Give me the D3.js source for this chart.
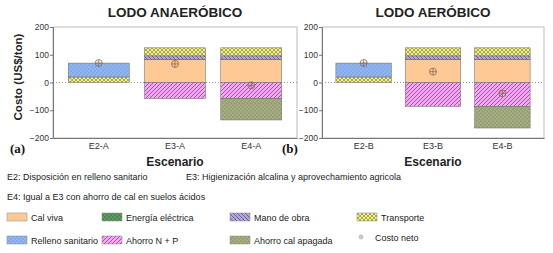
<!DOCTYPE html>
<html><head><meta charset="utf-8">
<script src="https://cdn.jsdelivr.net/npm/d3@7"></script>
<style>body{margin:0;background:#fff}svg{display:block;font-family:Arial,"Liberation Sans",sans-serif}</style>
</head><body>
<script>
const seriesNames = ["Cal viva","Energía eléctrica","Mano de obra","Transporte","Relleno sanitario","Ahorro N + P","Ahorro cal apagada"];
const catsA = ["E2-A","E3-A","E4-A"];
const catsB = ["E2-B","E3-B","E4-B"];
const calViva      = {A:[0,82,82],   B:[0,82,82]};
const energia      = {A:[0,1,1],     B:[0,1,1]};
const manoObra     = {A:[0,13,13],   B:[0,13,13]};
const transporte   = {A:[20,29,29],  B:[20,29,29]};
const relleno      = {A:[50,0,0],    B:[50,0,0]};
const ahorroNP     = {A:[0,-58,-58], B:[0,-86,-86]};
const ahorroCal    = {A:[0,0,-77],   B:[0,0,-78]};
const costoNeto    = {A:[70,67,-10], B:[70,39,-39]};
const yTicks = [-200,-100,0,100,200];
const footnotes = ["E2: Disposición en relleno sanitario","E3: Higienización alcalina y aprovechamiento agricola","E4: Igual a E3 con ahorro de cal en suelos ácidos"];

const svg = d3.select("body").append("svg").attr("width",553).attr("height",253);
const defs = svg.append("defs");
function pat(id, bg, draw){
  const p = defs.append("pattern").attr("id",id).attr("patternUnits","userSpaceOnUse").attr("width",4).attr("height",4);
  p.append("rect").attr("width",4).attr("height",4).attr("fill",bg);
  draw(p);
}
pat("p-cal","#ffc996",()=>{});
pat("p-ene","#5f9a62",p=>{p.append("circle").attr("cx",1).attr("cy",1).attr("r",0.7).attr("fill","#2f5f32");p.append("circle").attr("cx",3).attr("cy",3).attr("r",0.7).attr("fill","#2f5f32");});
pat("p-mano","#b4a6dc",p=>{p.append("path").attr("d","M-1,-1L5,5M-1,3L1,5M3,-1L5,1").attr("stroke","#5a4e80").attr("stroke-width",0.8);});
pat("p-tr","#f2f08a",p=>{p.append("path").attr("d","M0,0L4,4M4,0L0,4").attr("stroke","#8a8a40").attr("stroke-width",0.7);});
pat("p-rel","#90b6f2",p=>{p.append("circle").attr("cx",1).attr("cy",1).attr("r",0.5).attr("fill","#5a78b8");p.append("circle").attr("cx",3).attr("cy",3).attr("r",0.5).attr("fill","#5a78b8");});
pat("p-np","#f4a6f4",p=>{p.append("path").attr("d","M-1,5L5,-1M-1,1L1,-1M3,5L5,3").attr("stroke","#7a3a7a").attr("stroke-width",0.7);});
pat("p-acal","#a4ae80",p=>{p.append("circle").attr("cx",1).attr("cy",1).attr("r",0.6).attr("fill","#6a7050");p.append("circle").attr("cx",3).attr("cy",3).attr("r",0.6).attr("fill","#6a7050");});
const fills = ["url(#p-cal)","url(#p-ene)","url(#p-mano)","url(#p-tr)","url(#p-rel)","url(#p-np)","url(#p-acal)"];
const seriesArr = [calViva,energia,manoObra,transporte,relleno,ahorroNP,ahorroCal];
function panel(key, cats, x0, x1, title, letter, lx){
  const y = d3.scaleLinear().domain([-200,200]).range([138,27]);
  const x = d3.scaleBand().domain(cats).range([x0,x1]).padding(0.2);
  const g = svg.append("g");
  g.append("rect").attr("x",x0).attr("y",27).attr("width",x1-x0).attr("height",111).attr("fill","none").attr("stroke","#bbb").attr("stroke-width",1);
  g.append("line").attr("x1",x0).attr("x2",x1).attr("y1",y(0)).attr("y2",y(0)).attr("stroke","#999").attr("stroke-dasharray","1,2");
  cats.forEach((c,i)=>{
    const order = i===0 ? [3,4] : [0,1,2,3];
    let acc = 0;
    order.forEach(s=>{
      const v = seriesArr[s][key][i]; if(!v) return;
      g.append("rect").attr("x",x(c)).attr("width",x.bandwidth()).attr("y",y(acc+v)).attr("height",y(acc)-y(acc+v))
        .attr("fill",fills[s]).attr("stroke","#666").attr("stroke-width",0.5);
      acc += v;
    });
    let neg = 0;
    [5,6].forEach(s=>{
      const v = seriesArr[s][key][i]; if(!v) return;
      g.append("rect").attr("x",x(c)).attr("width",x.bandwidth()).attr("y",y(neg)).attr("height",y(neg+v)-y(neg))
        .attr("fill",fills[s]).attr("stroke","#666").attr("stroke-width",0.5);
      neg += v;
    });
    const cx = x(c)+x.bandwidth()/2, cy = y(costoNeto[key][i]);
    g.append("circle").attr("cx",cx).attr("cy",cy).attr("r",3.5).attr("fill","none").attr("stroke","#8a6a50").attr("stroke-width",0.8);
    g.append("path").attr("d",`M${cx-3.5},${cy}H${cx+3.5}M${cx},${cy-3.5}V${cy+3.5}`).attr("stroke","#8a6a50").attr("stroke-width",0.8);
  });
  const ax = g.append("g").attr("transform",`translate(${x0},0)`).call(d3.axisLeft(y).tickValues(yTicks).tickSize(3).tickPadding(1));
  ax.selectAll("path,line").attr("stroke","#777");
  ax.selectAll("text").attr("font-size",8.5).attr("fill","#333");
  const bx = g.append("g").attr("transform",`translate(0,138)`).call(d3.axisBottom(x).tickSize(0).tickPadding(5));
  bx.select("path").attr("stroke","#777");
  bx.selectAll("text").attr("font-size",9).attr("fill","#333");
  g.append("text").attr("x",(x0+x1)/2).attr("y",17).attr("text-anchor","middle").attr("font-weight","bold").attr("font-size",13.5).attr("fill","#222").text(title);
  g.append("text").attr("x",(x0+x1)/2).attr("y",166).attr("text-anchor","middle").attr("font-weight","bold").attr("font-size",12).attr("fill","#222").text("Escenario");
  g.append("text").attr("x",lx).attr("y",153).attr("font-family","'Liberation Serif',serif").attr("font-weight","bold").attr("font-size",13).attr("fill","#111").text(letter);
}
panel("A",catsA,53,297,"LODO ANAERÓBICO","(a)",10);
panel("B",catsB,322,544,"LODO AERÓBICO","(b)",282);
svg.append("text").attr("transform","translate(22,77) rotate(-90)").attr("text-anchor","middle").attr("font-weight","bold").attr("font-size",11.5).attr("fill","#222").text("Costo (US$/ton)");

const fn = svg.append("g").attr("font-size",9).attr("fill","#222");
fn.append("text").attr("x",7).attr("y",180).text(footnotes[0]);
fn.append("text").attr("x",186).attr("y",180).text(footnotes[1]);
fn.append("text").attr("x",7).attr("y",200).text(footnotes[2]);

const legendItems = [
  {s:0,x:7,y:217},{s:1,x:102,y:217},{s:2,x:230,y:217},{s:3,x:357,y:217},
  {s:4,x:7,y:240},{s:5,x:102,y:240},{s:6,x:230,y:240},{s:-1,x:357,y:240}
];
const lg = svg.append("g");
legendItems.forEach(it=>{
  if(it.s>=0){
    lg.append("rect").attr("x",it.x).attr("y",it.y-4).attr("width",20).attr("height",8).attr("fill",fills[it.s]).attr("stroke","#888").attr("stroke-width",0.5);
    lg.append("text").attr("x",it.x+24).attr("y",it.y+3.5).attr("font-size",9).attr("fill","#222").text(seriesNames[it.s]);
  } else {
    const cx=it.x+4, cy=it.y-3;
    lg.append("circle").attr("cx",cx).attr("cy",cy).attr("r",2).attr("fill","none").attr("stroke","#888").attr("stroke-width",0.5);
    lg.append("path").attr("d",`M${cx-2},${cy}H${cx+2}M${cx},${cy-2}V${cy+2}`).attr("stroke","#888").attr("stroke-width",0.5);
    lg.append("text").attr("x",it.x+18).attr("y",it.y+1).attr("font-size",9).attr("fill","#222").text("Costo neto");
  }
});
</script>
</body></html>
